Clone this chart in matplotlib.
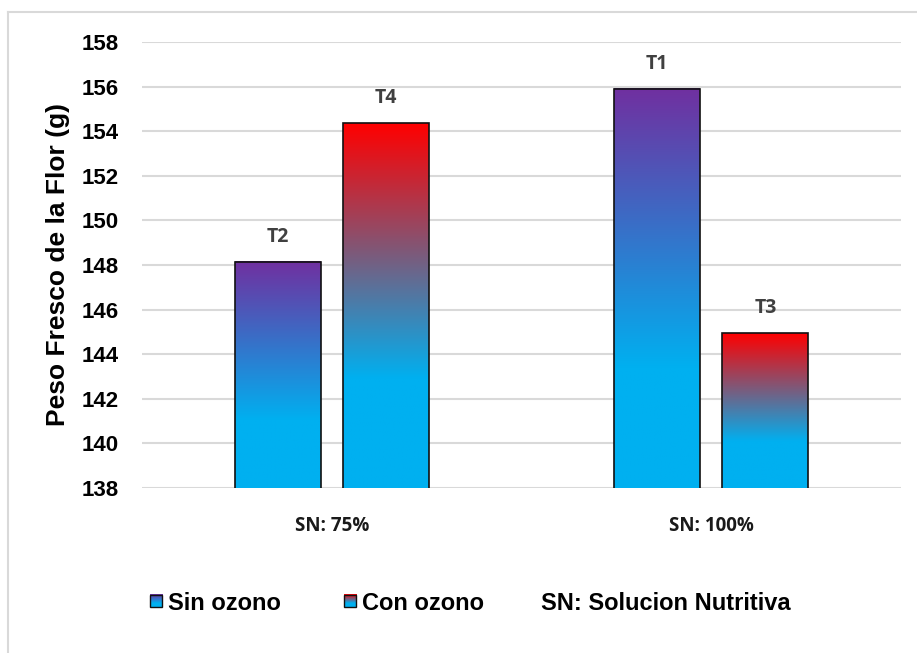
import numpy as np
import matplotlib
matplotlib.use("Agg")
import matplotlib.pyplot as plt
from matplotlib.colors import LinearSegmentedColormap
from matplotlib.patches import Rectangle
from matplotlib.lines import Line2D
from matplotlib.legend_handler import HandlerBase
from matplotlib.image import BboxImage
from matplotlib.transforms import Bbox, TransformedBbox

# ---- data ----
categories = ["SN: 75%", "SN: 100%"]
series_names = ["Sin ozono", "Con ozono"]
sin_ozono = [148.15, 155.9]
con_ozono = [154.35, 144.95]
bar_labels_sin = ["T2", "T1"]
bar_labels_con = ["T4", "T3"]
y_ticks = [138, 140, 142, 144, 146, 148, 150, 152, 154, 156, 158]
note_text = "SN: Solucion Nutritiva"
y_title = "Peso Fresco de la Flor (g)"

# ---- styles ----
CYAN = "#00B0F0"
PURPLE = "#7030A0"
RED = "#FF0000"
GRID = "#D9D9D9"
LABEL_GRAY = "#404040"

def gradient_cmap(top):
    return LinearSegmentedColormap.from_list(
        "g", [(0.0, CYAN), (0.3, CYAN), (1.0, top)])

cmaps = [gradient_cmap(PURPLE), gradient_cmap(RED)]
grad = np.linspace(0, 1, 256).reshape(-1, 1)

fig = plt.figure(figsize=(9.17, 6.53), dpi=100)
ax = fig.add_axes([142 / 917, 1 - 488 / 653, 759 / 917, 446 / 653])

ymin, ymax = y_ticks[0], y_ticks[-1]
ax.set_ylim(ymin, ymax)
ax.set_xlim(-0.5, 1.5)

x = np.arange(len(categories))
width = 0.226
offset = 0.1425

for vals, labels, cmap, off in [(sin_ozono, bar_labels_sin, cmaps[0], -offset),
                                (con_ozono, bar_labels_con, cmaps[1], offset)]:
    bars = ax.bar(x + off, vals, width, facecolor="none", edgecolor="#111111",
                  linewidth=1.2, zorder=3)
    for rect, v, lab in zip(bars, vals, labels):
        x0 = rect.get_x()
        ax.imshow(grad, cmap=cmap, origin="lower", aspect="auto",
                  interpolation="bilinear",
                  extent=[x0, x0 + rect.get_width(), ymin, v], zorder=2)
        ax.annotate(lab, (x0 + rect.get_width() / 2, v), xytext=(0, 18),
                    textcoords="offset points", ha="center", va="center",
                    fontsize=14, fontweight="bold", color=LABEL_GRAY,
                    family=["Open Sans", "DejaVu Sans"])

ax.set_xlim(-0.5, 1.5)
ax.set_ylim(ymin, ymax)

# axes styling
for s in ax.spines.values():
    s.set_visible(False)
ax.set_yticks(y_ticks)
ax.yaxis.grid(True, color=GRID, linewidth=1.5, zorder=0)
ax.set_axisbelow(True)
ax.tick_params(axis="both", length=0)
ax.tick_params(axis="y", pad=17)
ax.tick_params(axis="x", pad=20)
for t in ax.get_yticklabels():
    t.set_fontsize(16)
    t.set_fontweight("bold")
    t.set_family(["Liberation Sans", "DejaVu Sans"])
ax.set_xticks(x)
ax.set_xticklabels(categories, fontsize=13.5, fontweight="bold",
                   family=["Open Sans", "DejaVu Sans"], color="#1a1a1a")
ax.set_ylabel(y_title, fontsize=19, fontweight="bold",
              family=["Liberation Sans", "DejaVu Sans"], va="center")
ax.yaxis.set_label_coords(-0.111, 0.5)


class GradientSquare(HandlerBase):
    def __init__(self, cmap):
        super().__init__()
        self.cmap = cmap

    def create_artists(self, legend, orig_handle, xdescent, ydescent,
                       width, height, fontsize, trans):
        side = width
        x0 = -xdescent
        y0 = -ydescent + (height - side) / 2
        bb = TransformedBbox(Bbox.from_bounds(x0, y0, side, side), trans)
        img = BboxImage(bb, cmap=self.cmap, interpolation="bilinear",
                        origin="lower")
        img.set_data(np.linspace(0, 1, 64).reshape(-1, 1))
        frame = Rectangle((x0, y0), side, side, fill=False,
                          edgecolor="#111111", linewidth=1.0, transform=trans)
        return [img, frame]


handles = [Rectangle((0, 0), 1, 1), Rectangle((0, 0), 1, 1)]
leg = fig.legend(handles, series_names, loc="center left",
                 bbox_to_anchor=(150 / 917, 1 - 603 / 653), ncol=2,
                 frameon=False, borderpad=0, borderaxespad=0,
                 handlelength=0.52, handletextpad=0.26, columnspacing=2.65,
                 handler_map={handles[0]: GradientSquare(cmaps[0]),
                              handles[1]: GradientSquare(cmaps[1])},
                 prop={"family": ["Liberation Sans", "DejaVu Sans"],
                       "weight": "bold", "size": 17})
fig.text(541 / 917, 1 - 603 / 653, note_text, ha="left", va="center",
         fontsize=17, fontweight="bold",
         family=["Liberation Sans", "DejaVu Sans"])

# outer chart frame
fig.add_artist(Line2D([8 / 917, 1.0], [1 - 12 / 653, 1 - 12 / 653],
                      color=GRID, linewidth=1.5, transform=fig.transFigure))
fig.add_artist(Line2D([8 / 917, 8 / 917], [0.0, 1 - 12 / 653],
                      color=GRID, linewidth=1.5, transform=fig.transFigure))

fig.savefig("out.png", dpi=100, facecolor="white")
